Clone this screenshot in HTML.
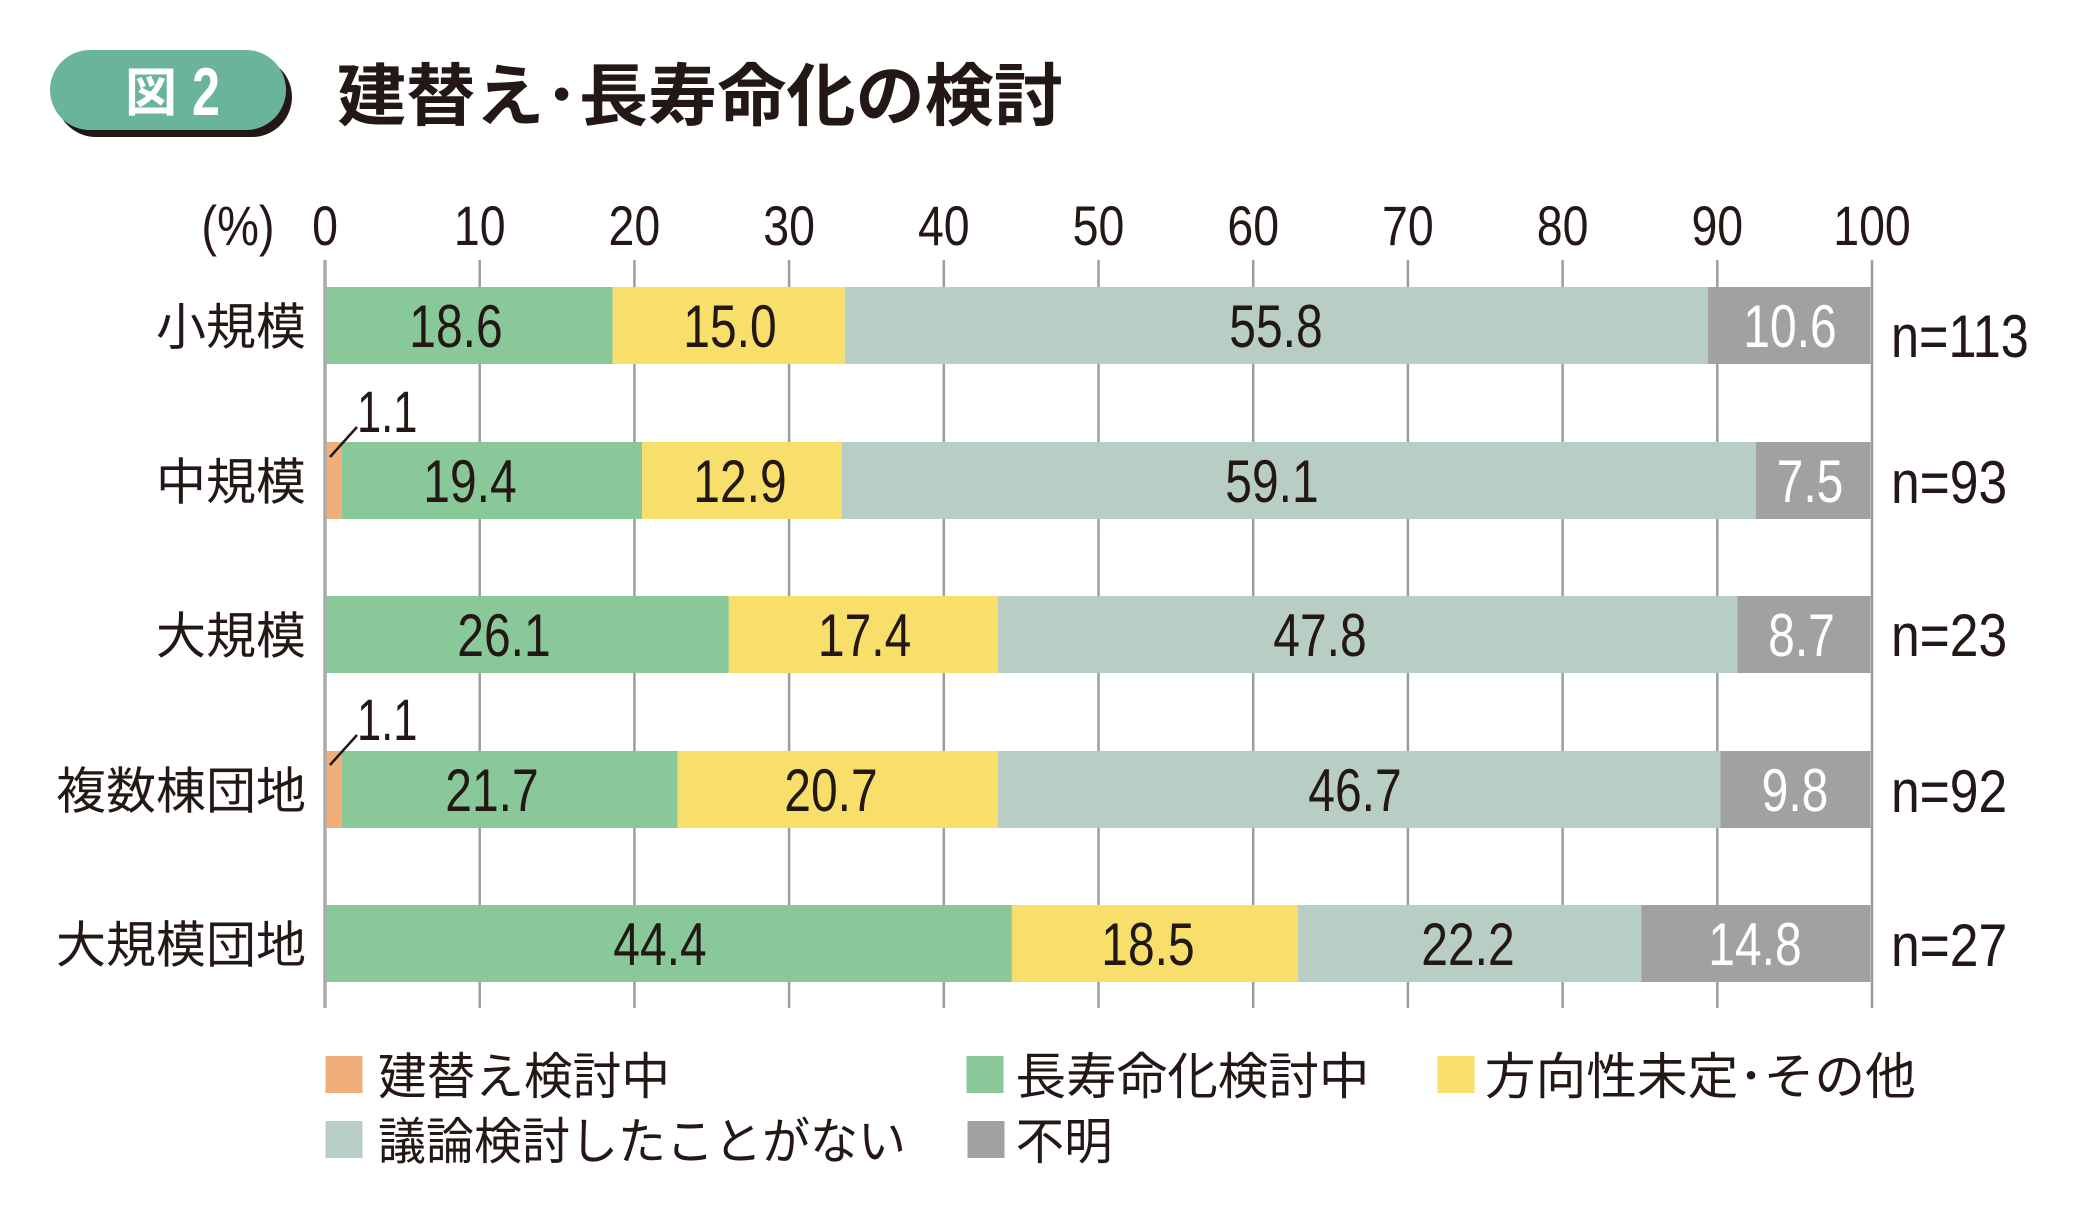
<!DOCTYPE html>
<html><head><meta charset="utf-8">
<style>
html,body{margin:0;padding:0;background:#fff;}
svg{display:block;}
.jp{font-family:"Liberation Sans","Noto Sans CJK JP",sans-serif;fill:#231815;}
.num{font-family:"Liberation Sans",sans-serif;fill:#231815;}
</style></head>
<body>
<svg width="2079" height="1212" viewBox="0 0 2079 1212" xmlns="http://www.w3.org/2000/svg">
<rect width="2079" height="1212" fill="#fff"/>

<!-- Title pill -->
<rect x="56" y="57" width="236" height="80" rx="40" fill="#231815"/>
<rect x="50" y="50" width="236" height="80" rx="40" fill="#69B49A"/>
<text x="125" y="111" font-family="Noto Sans CJK JP, sans-serif" font-weight="700" font-size="52" fill="#fff">図</text>
<text transform="translate(192,115) scale(0.74,1)" font-family="Liberation Sans, sans-serif" font-weight="700" font-size="68" fill="#fff">2</text>
<text class="jp" x="337" y="120" font-size="68" font-weight="700" textLength="726" lengthAdjust="spacingAndGlyphs">建替え･長寿命化の検討</text>

<!-- axis labels -->
<g class="num" font-size="56" text-anchor="middle">
<text transform="translate(238,245) scale(0.84,1)">(%)</text>
<text transform="translate(325,245) scale(0.83,1)">0</text>
<text transform="translate(479.7,245) scale(0.83,1)">10</text>
<text transform="translate(634.4,245) scale(0.83,1)">20</text>
<text transform="translate(789.1,245) scale(0.83,1)">30</text>
<text transform="translate(943.8,245) scale(0.83,1)">40</text>
<text transform="translate(1098.5,245) scale(0.83,1)">50</text>
<text transform="translate(1253.2,245) scale(0.83,1)">60</text>
<text transform="translate(1407.9,245) scale(0.83,1)">70</text>
<text transform="translate(1562.6,245) scale(0.83,1)">80</text>
<text transform="translate(1717.3,245) scale(0.83,1)">90</text>
<text transform="translate(1872,245) scale(0.83,1)">100</text>
</g>

<!-- gridlines -->
<g stroke="#9d9d9d" stroke-width="2.5">
<line x1="479.7" y1="260" x2="479.7" y2="1008"/>
<line x1="634.4" y1="260" x2="634.4" y2="1008"/>
<line x1="789.1" y1="260" x2="789.1" y2="1008"/>
<line x1="943.8" y1="260" x2="943.8" y2="1008"/>
<line x1="1098.5" y1="260" x2="1098.5" y2="1008"/>
<line x1="1253.2" y1="260" x2="1253.2" y2="1008"/>
<line x1="1407.9" y1="260" x2="1407.9" y2="1008"/>
<line x1="1562.6" y1="260" x2="1562.6" y2="1008"/>
<line x1="1717.3" y1="260" x2="1717.3" y2="1008"/>
<line x1="1872" y1="260" x2="1872" y2="1008"/>
</g>
<line x1="325" y1="260" x2="325" y2="1008" stroke="#aaaaaa" stroke-width="3.5"/>

<!-- Bars -->
<!-- Bar 1 -->
<rect x="326.5" y="287" width="286.2" height="77" fill="#89C898"/>
<rect x="612.7" y="287" width="232.1" height="77" fill="#F8DF6C"/>
<rect x="844.8" y="287" width="863.2" height="77" fill="#B8CDC4"/>
<rect x="1708" y="287" width="162.5" height="77" fill="#A0A1A0"/>
<!-- Bar 2 -->
<rect x="326.5" y="442" width="15.5" height="77" fill="#F0AE7B"/>
<rect x="342" y="442" width="300.1" height="77" fill="#89C898"/>
<rect x="642.1" y="442" width="199.6" height="77" fill="#F8DF6C"/>
<rect x="841.7" y="442" width="914.3" height="77" fill="#B8CDC4"/>
<rect x="1756" y="442" width="114.5" height="77" fill="#A0A1A0"/>
<!-- Bar 3 -->
<rect x="326.5" y="596" width="402.3" height="77" fill="#89C898"/>
<rect x="728.8" y="596" width="269.1" height="77" fill="#F8DF6C"/>
<rect x="997.9" y="596" width="739.5" height="77" fill="#B8CDC4"/>
<rect x="1737.4" y="596" width="133.1" height="77" fill="#A0A1A0"/>
<!-- Bar 4 -->
<rect x="326.5" y="751" width="15.5" height="77" fill="#F0AE7B"/>
<rect x="342" y="751" width="335.7" height="77" fill="#89C898"/>
<rect x="677.7" y="751" width="320.2" height="77" fill="#F8DF6C"/>
<rect x="997.9" y="751" width="722.5" height="77" fill="#B8CDC4"/>
<rect x="1720.4" y="751" width="150.1" height="77" fill="#A0A1A0"/>
<!-- Bar 5 -->
<rect x="326.5" y="905" width="685.4" height="77" fill="#89C898"/>
<rect x="1011.9" y="905" width="286.2" height="77" fill="#F8DF6C"/>
<rect x="1298.1" y="905" width="343.4" height="77" fill="#B8CDC4"/>
<rect x="1641.5" y="905" width="229" height="77" fill="#A0A1A0"/>

<!-- value labels -->
<g class="num" font-size="60" text-anchor="middle">
<text transform="translate(456,347) scale(0.8,1)">18.6</text>
<text transform="translate(730,347) scale(0.8,1)">15.0</text>
<text transform="translate(1276,347) scale(0.8,1)">55.8</text>
<text transform="translate(1790,347) scale(0.8,1)" fill="#fff">10.6</text>

<text transform="translate(470,502) scale(0.8,1)">19.4</text>
<text transform="translate(740,502) scale(0.8,1)">12.9</text>
<text transform="translate(1272,502) scale(0.8,1)">59.1</text>
<text transform="translate(1810,502) scale(0.8,1)" fill="#fff">7.5</text>

<text transform="translate(504,656) scale(0.8,1)">26.1</text>
<text transform="translate(864.6,656) scale(0.8,1)">17.4</text>
<text transform="translate(1320,656) scale(0.8,1)">47.8</text>
<text transform="translate(1801.5,656) scale(0.8,1)" fill="#fff">8.7</text>

<text transform="translate(492,811) scale(0.8,1)">21.7</text>
<text transform="translate(831,811) scale(0.8,1)">20.7</text>
<text transform="translate(1355,811) scale(0.8,1)">46.7</text>
<text transform="translate(1795,811) scale(0.8,1)" fill="#fff">9.8</text>

<text transform="translate(660,965) scale(0.8,1)">44.4</text>
<text transform="translate(1148,965) scale(0.8,1)">18.5</text>
<text transform="translate(1468,965) scale(0.8,1)">22.2</text>
<text transform="translate(1755,965) scale(0.8,1)" fill="#fff">14.8</text>
</g>

<!-- 1.1 annotations -->
<g class="num" font-size="58">
<text transform="translate(357,432) scale(0.75,1)">1.1</text>
<text transform="translate(357,740) scale(0.75,1)">1.1</text>
</g>
<line x1="330" y1="457" x2="357" y2="427" stroke="#231815" stroke-width="2.5"/>
<line x1="330" y1="765" x2="357" y2="735" stroke="#231815" stroke-width="2.5"/>

<!-- n labels -->
<g class="num" font-size="60">
<text transform="translate(1891,357) scale(0.84,1)">n=113</text>
<text transform="translate(1891,503) scale(0.86,1)">n=93</text>
<text transform="translate(1891,656) scale(0.86,1)">n=23</text>
<text transform="translate(1891,812) scale(0.86,1)">n=92</text>
<text transform="translate(1891,966) scale(0.86,1)">n=27</text>
</g>

<!-- row labels -->
<g class="jp" font-size="50" text-anchor="end">
<text x="306" y="344.5" textLength="150" lengthAdjust="spacingAndGlyphs">小規模</text>
<text x="306" y="499.5" textLength="150" lengthAdjust="spacingAndGlyphs">中規模</text>
<text x="306" y="653.5" textLength="150" lengthAdjust="spacingAndGlyphs">大規模</text>
<text x="306" y="808.5" textLength="250" lengthAdjust="spacingAndGlyphs">複数棟団地</text>
<text x="306" y="962.5" textLength="250" lengthAdjust="spacingAndGlyphs">大規模団地</text>
</g>

<!-- legend -->
<rect x="325.5" y="1056" width="37" height="37" fill="#F0AE7B"/>
<rect x="966.5" y="1056" width="37" height="37" fill="#89C898"/>
<rect x="1437.5" y="1056" width="37" height="37" fill="#F8DF6C"/>
<rect x="325.5" y="1121" width="37" height="37" fill="#B8CDC4"/>
<rect x="967.5" y="1121" width="37" height="37" fill="#A0A1A0"/>
<g class="jp" font-size="50">
<text x="378" y="1094" textLength="292" lengthAdjust="spacingAndGlyphs">建替え検討中</text>
<text x="1015.5" y="1094" textLength="354" lengthAdjust="spacingAndGlyphs">長寿命化検討中</text>
<text x="1484.8" y="1094" textLength="431" lengthAdjust="spacingAndGlyphs">方向性未定･その他</text>
<text x="378" y="1159" textLength="528" lengthAdjust="spacingAndGlyphs">議論検討したことがない</text>
<text x="1015.6" y="1159" textLength="97" lengthAdjust="spacingAndGlyphs">不明</text>
</g>
</svg>
</body></html>
